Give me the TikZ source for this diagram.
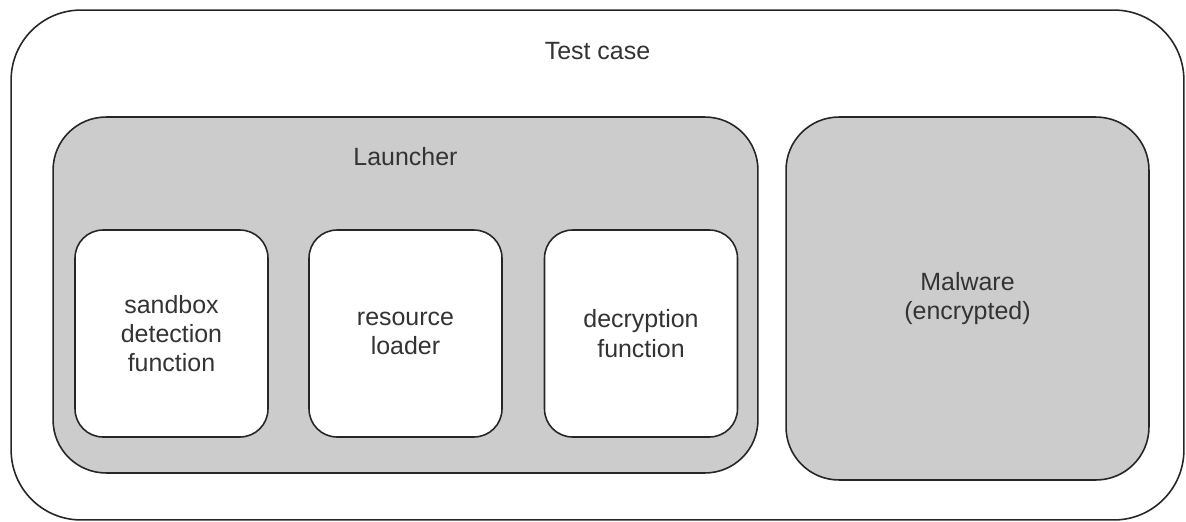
\documentclass[tikz,border=0pt]{standalone}
\usepackage{fontspec}
\setmainfont{Liberation Sans}
\usetikzlibrary{positioning}
\definecolor{boxgray}{HTML}{CCCCCC}
\definecolor{inkgray}{HTML}{333333}

\begin{document}
\begin{tikzpicture}[
    x=0.02cm, y=-0.02cm,
    box/.style      = {rectangle, draw=black!85, line width=0.9pt, inner sep=0pt,
                       font=\fontsize{14.2}{16.6}\selectfont, text=inkgray,
                       align=center},
    outerbox/.style = {box, fill=white, rounded corners=1.4cm,
                       minimum width=23.46cm, minimum height=10.2cm},
    groupbox/.style = {box, fill=boxgray, rounded corners=1.06cm},
    fnbox/.style    = {box, fill=white, rounded corners=0.56cm,
                       minimum width=3.86cm, minimum height=4.14cm},
    lbl/.style      = {font=\fontsize{14.2}{16.6}\selectfont, text=inkgray,
                       inner sep=0pt},
]
\useasboundingbox (0,0) rectangle (1186,521);

%% ---- Layout coordinates ----
\def\yGroup{295}
\def\yFn{333.5}

%% ==================================================================
%% BOXES
%% ==================================================================

\node[outerbox] (testcase) at (597.5, 265) {};

\node[groupbox, minimum width=14.1cm, minimum height=7.12cm] (launcher)
    at (405.5, \yGroup) {};

\node[groupbox, minimum width=7.26cm, minimum height=7.26cm] (malware)
    at (967.5, 298.5) {Malware\\(encrypted)};

\node[fnbox] (sandbox)    at (171.5, \yFn) {sandbox\\detection\\function};
\node[fnbox] (loader)     at (405.5, \yFn) {resource\\loader};
\node[fnbox] (decryption) at (641, \yFn)   {decryption\\function};

%% ==================================================================
%% TITLES
%% ==================================================================

\node[lbl, below=0.66cm of testcase.north] (testcaselbl) {Test case};
\node[lbl, below=0.62cm of launcher.north] (launcherlbl) {Launcher};

\end{tikzpicture}
\end{document}
